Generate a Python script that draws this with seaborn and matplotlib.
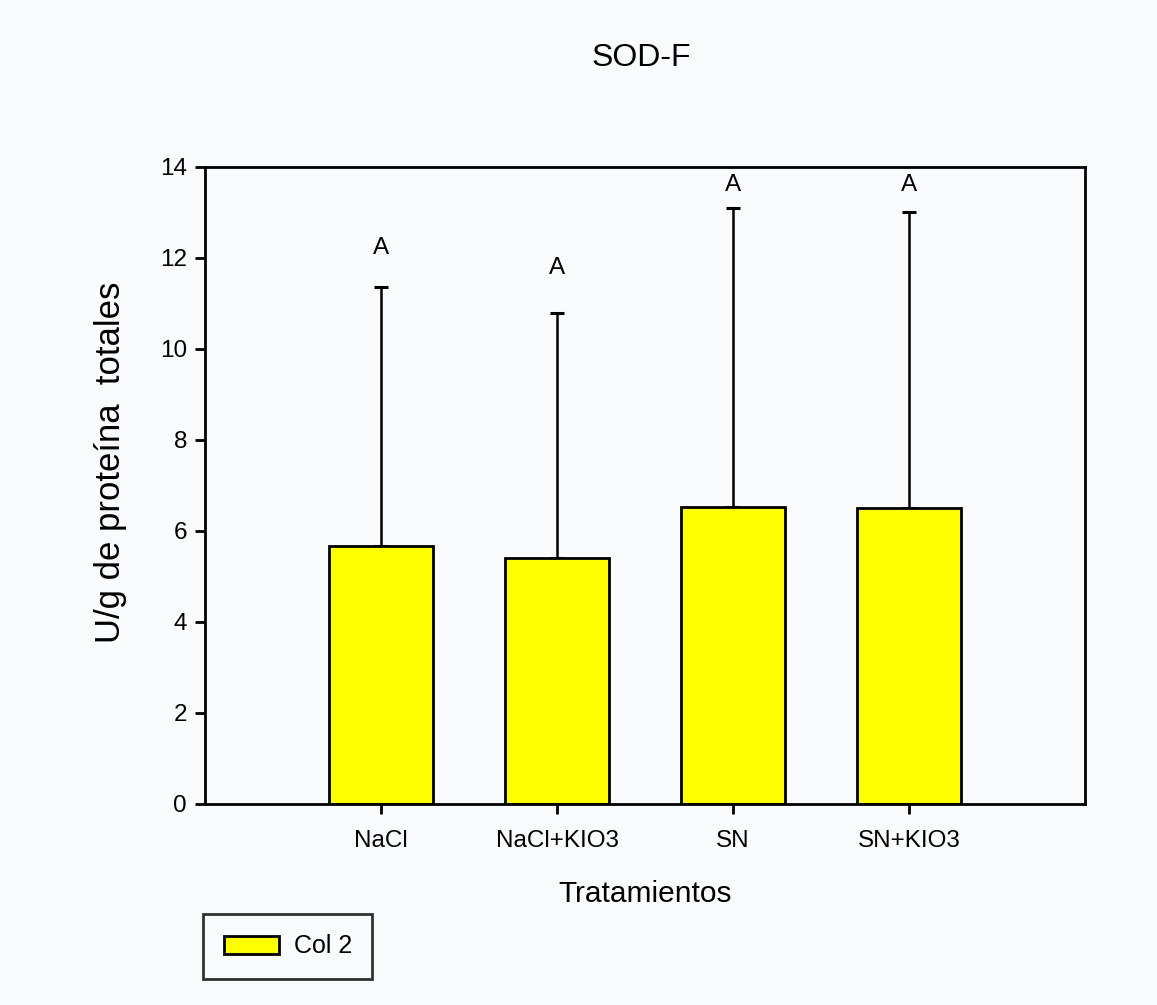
import matplotlib
matplotlib.use("Agg")
import matplotlib.pyplot as plt
import seaborn as sns
import pandas as pd
import numpy as np
from matplotlib.patches import Patch

categories = ["NaCl", "NaCl+KIO3", "SN", "SN+KIO3"]
means = [5.67, 5.41, 6.53, 6.51]
sd_upper = [5.69, 5.37, 6.57, 6.50]
letters = ["A", "A", "A", "A"]
letter_y = [12.21, 11.77, 13.60, 13.60]
yticks = [0, 2, 4, 6, 8, 10, 12, 14]

sns.set_theme(style="ticks")
plt.rcParams["font.family"] = ["Liberation Sans", "DejaVu Sans"]
plt.rcParams["text.color"] = "black"
plt.rcParams["axes.labelcolor"] = "black"

bg = "#f9fbfc"
fig = plt.figure(figsize=(11.57, 10.05), dpi=100, facecolor=bg)
ax = fig.add_axes([0.1772, 0.2003, 0.7606, 0.6337])
ax.set_facecolor(bg)

df = pd.DataFrame({"cat": categories, "val": means})
sns.barplot(data=df, x="cat", y="val", color="#ffff00", width=0.59,
            edgecolor="black", linewidth=2, saturation=1, errorbar=None, ax=ax)

xpos = np.arange(len(categories))
ax.errorbar(xpos, means, yerr=[np.zeros(len(means)), sd_upper], fmt="none",
            ecolor="black", elinewidth=1.8, capsize=4.7, capthick=2.2, zorder=1)
for b in ax.patches:
    b.set_zorder(2)

for x, t, y in zip(xpos, letters, letter_y):
    ax.text(x, y, t, ha="center", va="center", fontsize=17.5, color="black")

ax.set_xlim(-1, 4)
ax.set_ylim(0, 14)
ax.set_yticks(yticks)
ax.set_yticklabels([str(v) for v in yticks])
ax.tick_params(axis="both", direction="out", length=7, width=2, labelsize=17.5,
               colors="black", labelcolor="black")
ax.tick_params(axis="x", pad=12)
ax.tick_params(axis="y", pad=6)
for s in ax.spines.values():
    s.set_linewidth(2)
    s.set_color("black")
    s.set_visible(True)

ax.set_xlabel("Tratamientos", fontsize=21.5, labelpad=20, color="black")
ax.set_ylabel("U/g de proteína  totales", fontsize=25, color="black")
ax.yaxis.set_label_coords(-0.089, 0.536)
fig.text(0.554, 0.942, "SOD-F", ha="center", va="center", fontsize=23, color="black")

handle = Patch(facecolor="#ffff00", edgecolor="black", linewidth=2)
leg = fig.legend([handle], ["Col 2"], loc="lower left",
                 bbox_to_anchor=(0.1755, 0.026), frameon=True, fancybox=False,
                 fontsize=18, handlelength=2.2, handleheight=0.72,
                 borderpad=0.82, handletextpad=0.6, borderaxespad=0)
leg.get_frame().set_edgecolor("black")
leg.get_frame().set_linewidth(2)
leg.get_frame().set_facecolor(bg)

fig.savefig("out.png", dpi=100, facecolor=bg)
